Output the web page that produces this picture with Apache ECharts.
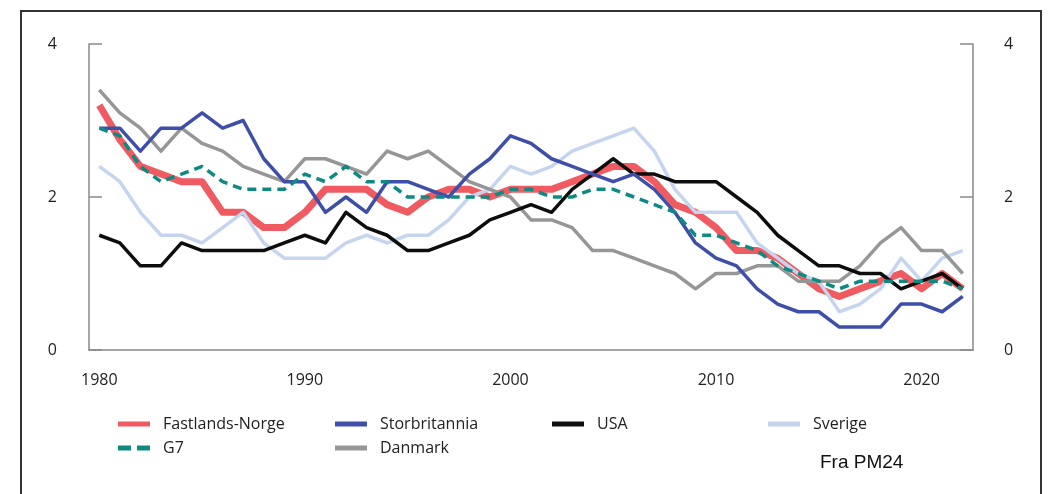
<!DOCTYPE html>
<html>
<head>
<meta charset="utf-8">
<script src="https://cdn.jsdelivr.net/npm/echarts@6/dist/echarts.min.js"></script>
<style>
html,body{margin:0;padding:0;background:#fff;}
#chart{width:1056px;height:494px;}
</style>
</head>
<body>
<div id="chart"></div>
<script>
var years = [];
for (var y = 1980; y <= 2022; y++) years.push(String(y));

var fastlandsNorge = [3.2, 2.75, 2.4, 2.3, 2.2, 2.2, 1.8, 1.8, 1.6, 1.6,
  1.8, 2.1, 2.1, 2.1, 1.9, 1.8, 2.0, 2.1, 2.1, 2.0,
  2.1, 2.1, 2.1, 2.2, 2.3, 2.4, 2.4, 2.2, 1.9, 1.8,
  1.6, 1.3, 1.3, 1.2, 1.0, 0.8, 0.7, 0.8, 0.9, 1.0,
  0.8, 1.0, 0.8];
var storbritannia = [2.9, 2.9, 2.6, 2.9, 2.9, 3.1, 2.9, 3.0, 2.5, 2.2,
  2.2, 1.8, 2.0, 1.8, 2.2, 2.2, 2.1, 2.0, 2.3, 2.5,
  2.8, 2.7, 2.5, 2.4, 2.3, 2.2, 2.3, 2.1, 1.8, 1.4,
  1.2, 1.1, 0.8, 0.6, 0.5, 0.5, 0.3, 0.3, 0.3, 0.6,
  0.6, 0.5, 0.7];
var usa = [1.5, 1.4, 1.1, 1.1, 1.4, 1.3, 1.3, 1.3, 1.3, 1.4,
  1.5, 1.4, 1.8, 1.6, 1.5, 1.3, 1.3, 1.4, 1.5, 1.7,
  1.8, 1.9, 1.8, 2.1, 2.3, 2.5, 2.3, 2.3, 2.2, 2.2,
  2.2, 2.0, 1.8, 1.5, 1.3, 1.1, 1.1, 1.0, 1.0, 0.8,
  0.9, 1.0, 0.8];
var sverige = [2.4, 2.2, 1.8, 1.5, 1.5, 1.4, 1.6, 1.8, 1.4, 1.2,
  1.2, 1.2, 1.4, 1.5, 1.4, 1.5, 1.5, 1.7, 2.0, 2.1,
  2.4, 2.3, 2.4, 2.6, 2.7, 2.8, 2.9, 2.6, 2.1, 1.8,
  1.8, 1.8, 1.4, 1.2, 1.0, 0.9, 0.5, 0.6, 0.8, 1.2,
  0.9, 1.2, 1.3];
var g7 = [2.9, 2.8, 2.4, 2.2, 2.3, 2.4, 2.2, 2.1, 2.1, 2.1,
  2.3, 2.2, 2.4, 2.2, 2.2, 2.0, 2.0, 2.0, 2.0, 2.0,
  2.1, 2.1, 2.0, 2.0, 2.1, 2.1, 2.0, 1.9, 1.8, 1.5,
  1.5, 1.4, 1.3, 1.1, 1.0, 0.9, 0.8, 0.9, 0.9, 0.9,
  0.9, 0.9, 0.8];
var danmark = [3.4, 3.1, 2.9, 2.6, 2.9, 2.7, 2.6, 2.4, 2.3, 2.2,
  2.5, 2.5, 2.4, 2.3, 2.6, 2.5, 2.6, 2.4, 2.2, 2.1,
  2.0, 1.7, 1.7, 1.6, 1.3, 1.3, 1.2, 1.1, 1.0, 0.8,
  1.0, 1.0, 1.1, 1.1, 0.9, 0.9, 0.9, 1.1, 1.4, 1.6,
  1.3, 1.3, 1.0];

var yTicks = [0, 2, 4];
var sourceNote = 'Fra PM24';

var FONT = '"Open Sans", sans-serif';
var axisGray = '#8a8a8a';

function yAxis(pos) {
  return {
    type: 'value', position: pos, min: yTicks[0], max: yTicks[yTicks.length - 1], interval: 2,
    axisLine: {show: true, lineStyle: {color: axisGray, width: 1.5}},
    axisTick: {show: true, inside: true, length: 13, lineStyle: {color: axisGray, width: 1.5}},
    splitLine: {show: false},
    axisLabel: {margin: pos === 'left' ? 32 : 31, color: '#222', fontSize: 16, fontFamily: FONT}
  };
}

function line(name, data, color, width, type) {
  return {
    name: name, type: 'line', data: data, symbol: 'none', silent: true,
    lineStyle: {color: color, width: width, type: type || 'solid', join: 'round', cap: 'butt'},
    itemStyle: {color: color}
  };
}

var SOLID_ICON = 'rect';
var DASH_ICON = 'path://M0,0H13V5H0Z M19,0H32V5H19Z';

function leg(name, left, top, icon) {
  return {
    data: [{name: name, icon: icon || SOLID_ICON}],
    left: left, top: top, padding: 0, itemWidth: 32, itemHeight: 5,
    textStyle: {fontSize: 16, color: '#222', fontFamily: FONT, padding: [0, 0, 0, 8]},
    selectedMode: false
  };
}

var chart = echarts.init(document.getElementById('chart'), null, {renderer: 'canvas'});
chart.setOption({
  animation: false,
  backgroundColor: '#fff',
  grid: {left: 89, right: 83, top: 44, bottom: 144},
  xAxis: {
    type: 'category', data: years, boundaryGap: true,
    axisLine: {show: true, lineStyle: {color: axisGray, width: 1.5}},
    axisTick: {show: false},
    axisLabel: {
      margin: 22, color: '#222', fontSize: 16, fontFamily: FONT,
      interval: function (i) { return i % 10 === 0; }
    }
  },
  yAxis: [yAxis('left'), yAxis('right')],
  legend: [
    leg('Fastlands-Norge', 118, 416),
    leg('Storbritannia', 335, 416),
    leg('USA', 552, 416),
    leg('Sverige', 768, 416),
    leg('G7', 118, 440, DASH_ICON),
    leg('Danmark', 335, 440)
  ],
  series: [
    line('Fastlands-Norge', fastlandsNorge, '#EF5B60', 7),
    line('Sverige', sverige, '#C6D5EF', 3.5),
    line('Danmark', danmark, '#969696', 3.5),
    line('USA', usa, '#0d0d0d', 3.5),
    line('Storbritannia', storbritannia, '#3D4FA8', 3.5),
    line('G7', g7, '#0F8A83', 3.5, [9, 6])
  ],
  graphic: [
    {type: 'rect', shape: {x: 21, y: 11, width: 1020, height: 500}, style: {fill: null, stroke: '#333', lineWidth: 2}, silent: true},
    {type: 'text', left: 820, top: 453, style: {text: sourceNote, fontSize: 19, fill: '#111', fontFamily: '"Liberation Sans", Arial, sans-serif'}, silent: true}
  ]
});
</script>
</body>
</html>
